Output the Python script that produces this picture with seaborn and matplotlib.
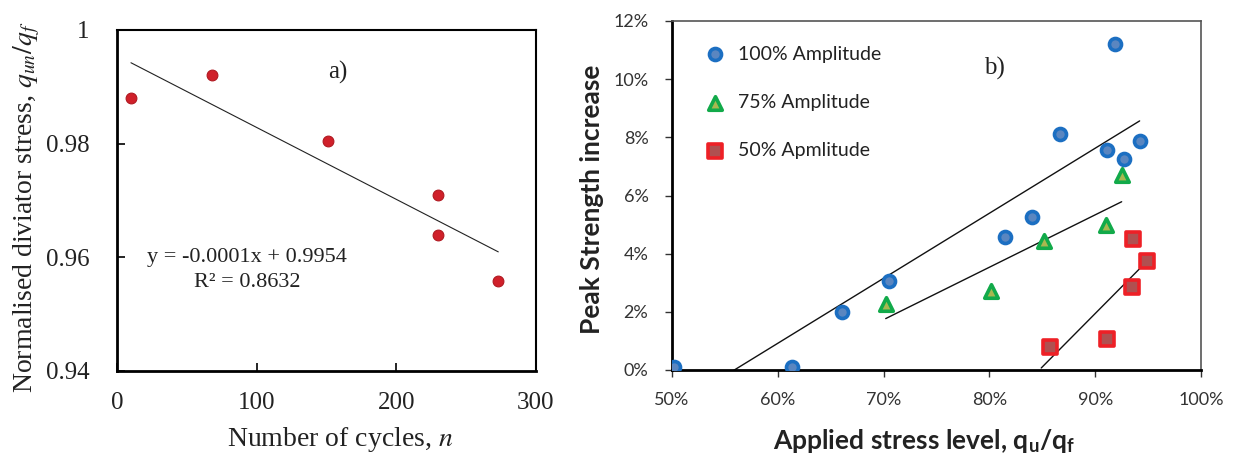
import numpy as np
import pandas as pd
import matplotlib
matplotlib.use("Agg")
import matplotlib.pyplot as plt
import seaborn as sns
from matplotlib.ticker import PercentFormatter, FuncFormatter, MultipleLocator

# ---------------- data ----------------
# Panel a)
cycles = [10, 68, 151, 230, 230, 273]
norm_stress = [0.988, 0.992, 0.9805, 0.971, 0.964, 0.9558]

# Panel b)
amp100_x = [0.502, 0.613, 0.661, 0.705, 0.815, 0.840, 0.867, 0.911, 0.927, 0.942, 0.919]
amp100_y = [0.001, 0.001, 0.020, 0.0306, 0.0458, 0.0526, 0.081, 0.0756, 0.0724, 0.0788, 0.1122]
amp75_x = [0.702, 0.8015, 0.852, 0.910, 0.925]
amp75_y = [0.0228, 0.0272, 0.0444, 0.0497, 0.0669]
amp50_x = [0.857, 0.911, 0.9345, 0.936, 0.949]
amp50_y = [0.0078, 0.0105, 0.0285, 0.045, 0.0374]
series_labels = ["100% Amplitude", "75% Amplitude", "50% Apmlitude"]
# backward extension of each trendline (Excel "backward forecast")
trend_backward = [0.0, 0.0, 0.008]

sns.set_theme(style="white")
plt.rcParams["mathtext.fontset"] = "custom"
plt.rcParams["mathtext.rm"] = "Lato"
plt.rcParams["mathtext.bf"] = "Lato:bold"
plt.rcParams["mathtext.it"] = "Lato:italic"

fig = plt.figure(figsize=(12.34, 4.57), dpi=100)
ax1 = fig.add_axes([117/1234, 1-371/457, (536-117)/1234, (371-30)/457])
ax2 = fig.add_axes([672/1234, 1-370/457, (1201-672)/1234, (370-21)/457])

serif = "Liberation Serif"

# ---------------- panel a ----------------
dfa = pd.DataFrame({"n": cycles, "q": norm_stress})
sns.scatterplot(data=dfa, x="n", y="q", ax=ax1, color="#D0202A", s=60,
                edgecolor="#B01820", linewidth=0.8, zorder=3)
p = np.polyfit(cycles, norm_stress, 1)
xx = np.array([min(cycles), max(cycles)])
ax1.plot(xx, np.polyval(p, xx), color="#222222", lw=0.8, zorder=2)

ax1.set_xlim(0, 300)
ax1.set_ylim(0.94, 1.0)
ax1.xaxis.set_major_locator(MultipleLocator(100))
ax1.yaxis.set_major_locator(MultipleLocator(0.02))
ax1.yaxis.set_major_formatter(FuncFormatter(lambda v, pos: f"{v:g}"))
ax1.tick_params(direction="in", length=6, width=1.2, color="black",
                labelsize=18, left=True, bottom=True)
ax1.tick_params(axis="x", pad=15)
ax1.tick_params(axis="y", pad=20)
for lab in ax1.get_xticklabels() + ax1.get_yticklabels():
    lab.set_fontfamily(serif)
    lab.set_color("#222222")
for s in ax1.spines.values():
    s.set_color("black")
    s.set_linewidth(1.5)
ax1.spines["left"].set_linewidth(2)
ax1.spines["bottom"].set_linewidth(2)

ax1.set_xlabel("Number of cycles, $n$", fontsize=20, family=serif,
               math_fontfamily="stix", color="#222222")
ax1.set_ylabel("Normalised diviator stress, $q_{un}/q_f$", fontsize=20,
               family=serif, math_fontfamily="stix", color="#222222")
ax1.xaxis.set_label_coords(0.532, -0.158)
ax1.yaxis.set_label_coords(-0.18, 0.48)
ax1.text(158, 0.9926, "a)", fontsize=18, family=serif, ha="center",
         va="center", color="#222222")
ax1.text(93, 0.9600, "y = -0.0001x + 0.9954", fontsize=16, family=serif,
         ha="center", va="center", color="#222222")
ax1.text(93, 0.9555, "R² = 0.8632", fontsize=16, family=serif,
         ha="center", va="center", color="#222222")

# ---------------- panel b ----------------
dfb = pd.DataFrame({
    "x": amp100_x + amp75_x + amp50_x,
    "y": amp100_y + amp75_y + amp50_y,
    "series": [series_labels[0]] * len(amp100_x) + [series_labels[1]] * len(amp75_x)
              + [series_labels[2]] * len(amp50_x),
})
styles = [
    (series_labels[0], "o", "#5A86C0", "#1C6FC2", 75),
    (series_labels[1], "^", "#A8B850", "#12AA4A", 95),
    (series_labels[2], "s", "#B05050", "#EE2026", 95),
]
for name, mk, fc, ec, sz in styles:
    sub = dfb[dfb["series"] == name]
    sns.scatterplot(data=sub, x="x", y="y", ax=ax2, marker=mk, color=fc,
                    edgecolor=ec, linewidth=2.6, s=sz, label=name, zorder=3)

for (xs, ys), back in zip([(amp100_x, amp100_y), (amp75_x, amp75_y),
                           (amp50_x, amp50_y)], trend_backward):
    pp = np.polyfit(xs, ys, 1)
    xl = np.array([min(xs) - back, max(xs)])
    ax2.plot(xl, np.polyval(pp, xl), color="#111111", lw=1.0, zorder=2)

ax2.set_xlim(0.5, 1.0)
ax2.set_ylim(0, 0.12)
ax2.xaxis.set_major_locator(MultipleLocator(0.1))
ax2.yaxis.set_major_locator(MultipleLocator(0.02))
ax2.xaxis.set_major_formatter(PercentFormatter(1.0, decimals=0))
ax2.yaxis.set_major_formatter(PercentFormatter(1.0, decimals=0))
ax2.tick_params(direction="out", length=5, width=1.0, color="#333333",
                labelsize=13, left=True, bottom=True)
ax2.tick_params(axis="x", pad=11)
ax2.tick_params(axis="y", pad=12)
for lab in ax2.get_xticklabels() + ax2.get_yticklabels():
    lab.set_fontfamily("Lato")
    lab.set_color("#333333")
for k, s in ax2.spines.items():
    s.set_color("#555555")
    s.set_linewidth(1.2)
ax2.spines["left"].set_color("black")
ax2.spines["bottom"].set_color("black")
ax2.spines["left"].set_linewidth(2)
ax2.spines["bottom"].set_linewidth(2)

ax2.set_xlabel(r"Applied stress level, q$_\mathbf{u}$/q$_\mathbf{f}$",
               fontsize=19, family="Lato", fontweight="bold", color="#222222")
ax2.set_ylabel("Peak Strength increase", fontsize=19, family="Lato",
               fontweight="bold", color="#222222")
ax2.xaxis.set_label_coords(0.476, -0.163)
ax2.yaxis.set_label_coords(-0.128, 0.49)
ax2.text(0.61, 0.865, "b)", transform=ax2.transAxes, fontsize=18,
         family=serif, ha="center", va="center", color="#222222")

leg = ax2.legend(loc="upper left", bbox_to_anchor=(0.044, 0.952), frameon=False,
                 prop={"family": "Lato", "size": 14}, labelspacing=1.6,
                 handletextpad=0.6, borderaxespad=0, handlelength=1.2)
for t in leg.get_texts():
    t.set_color("#222222")

fig.savefig("out.png", dpi=100)
